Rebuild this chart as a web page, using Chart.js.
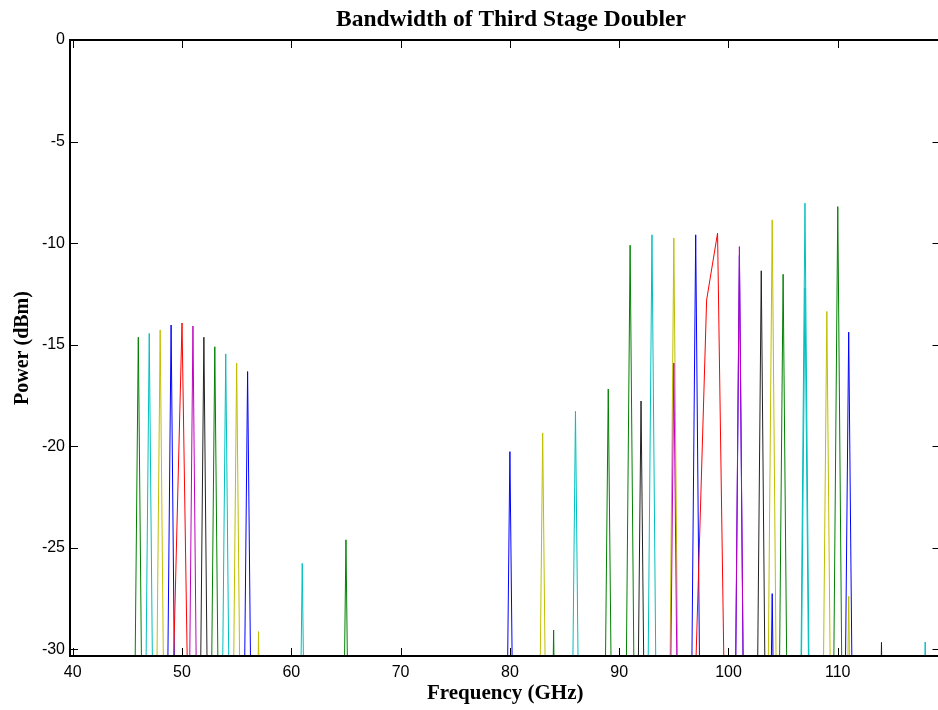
<!DOCTYPE html>
<html>
<head>
<meta charset="utf-8">
<title>Bandwidth of Third Stage Doubler</title>
<script src="https://cdn.jsdelivr.net/npm/chart.js@4.4.1/dist/chart.umd.min.js"></script>
<style>
    html, body { margin: 0; padding: 0; background: #fff; overflow: hidden; }
    #wrap { width: 942px; height: 710px; }
</style>
</head>
<body>
<div id="wrap"><canvas id="myChart" width="942" height="710"></canvas></div>
<script>
// Peak output of each measured tone (GHz, dBm) and its trace colour
const toneFreq = [46, 47, 48, 49, 51, 52, 53, 54, 55, 56, 57, 61, 65,
    80, 83, 84, 86, 89, 91, 92, 93, 95, 95, 97,
    101, 101, 103, 104, 104, 105, 107, 107, 109, 110, 111, 111, 114, 118];
const tonePower = [-14.63, -14.44, -14.27, -14.03, -14.08, -14.63, -15.1, -15.45, -15.9, -16.32, -29.12, -25.76, -24.6,
    -20.26, -19.34, -29.04, -18.28, -17.18, -10.1, -17.77, -9.59, -15.9, -9.75, -9.59,
    -10.17, -10.6, -11.36, -27.25, -8.85, -11.53, -8.03, -12.2, -13.36, -8.2, -27.38, -14.38, -29.65, -29.63];
const toneColor = ['g', 'c', 'y', 'b', 'm', 'k', 'g', 'c', 'y', 'b', 'y', 'c', 'g',
    'b', 'y', 'g', 'c', 'g', 'g', 'k', 'c', 'm', 'y', 'b',
    'm', 'b', 'k', 'b', 'y', 'g', 'c', 'c', 'y', 'g', 'y', 'b', 'k', 'c'];

// the two red sweeps were logged point by point
const redLowFreq = [49, 50, 51];
const redLowPower = [-35.5, -13.93, -48.8];
const redHighFreq = [97, 98, 99, 100];
const redHighPower = [-31, -12.8, -9.51, -46];

// analyzer reading either side of a tone, one sweep step away
const noiseFloor = -70;
const sweepStep = 1;

const xTickValues = [40, 50, 60, 70, 80, 90, 100, 110];
const yTickValues = [0, -5, -10, -15, -20, -25, -30];

const matlabColors = {
    b: '#0000ff', g: '#008000', r: '#ff0000', c: '#00bfbf',
    m: '#bf00bf', y: '#bfbf00', k: '#222222'
};

function lineSet(points, color) {
    return {
        data: points,
        borderColor: color,
        borderWidth: 1,
        pointRadius: 0,
        tension: 0,
        fill: false
    };
}

const datasets = [
    lineSet(redLowFreq.map((f, i) => ({ x: f, y: redLowPower[i] })), matlabColors.r),
    lineSet(redHighFreq.map((f, i) => ({ x: f, y: redHighPower[i] })), matlabColors.r)
];
toneFreq.forEach((f, i) => {
    datasets.push(lineSet([
        { x: f - sweepStep, y: noiseFloor },
        { x: f, y: tonePower[i] },
        { x: f + sweepStep, y: noiseFloor }
    ], matlabColors[toneColor[i]]));
});

// boxed axes with the tick marks pointing inwards, plus the heading
const boxTicks = {
    id: 'boxTicks',
    afterDatasetsDraw(chart) {
        const { ctx, chartArea: a, scales: { x, y } } = chart;
        const len = 8;
        ctx.save();
        ctx.strokeStyle = '#000';
        ctx.lineWidth = 1;
        ctx.beginPath();
        xTickValues.forEach(v => {
            const px = Math.round(x.getPixelForValue(v)) + 0.5;
            ctx.moveTo(px, a.bottom);
            ctx.lineTo(px, a.bottom - len);
            ctx.moveTo(px, a.top);
            ctx.lineTo(px, a.top + len);
        });
        yTickValues.forEach(v => {
            const py = Math.round(y.getPixelForValue(v)) + 0.5;
            ctx.moveTo(a.left, py);
            ctx.lineTo(a.left + len, py);
            ctx.moveTo(a.right, py);
            ctx.lineTo(a.right - len, py);
        });
        ctx.stroke();
        ctx.lineWidth = 2;
        ctx.strokeRect(a.left, a.top, a.right - a.left, a.bottom - a.top);

        ctx.fillStyle = '#000';
        ctx.font = 'bold 23.5px "Liberation Serif"';
        ctx.textAlign = 'center';
        ctx.textBaseline = 'middle';
        ctx.fillText('Bandwidth of Third Stage Doubler', 511, 20);
        ctx.restore();
    }
};

const ctx = document.getElementById('myChart').getContext('2d');

new Chart(ctx, {
    type: 'line',
    data: { datasets: datasets },
    options: {
        responsive: false,
        animation: false,
        devicePixelRatio: 1,
        layout: {
            padding: { left: 0, right: 1.5, top: 40, bottom: 0 }
        },
        scales: {
            x: {
                type: 'linear',
                min: 39.75,
                max: 119.4,
                afterBuildTicks: s => { s.ticks = xTickValues.map(v => ({ value: v })); },
                afterFit: s => { s.height = 54; },
                grid: { display: false, drawTicks: false },
                border: { display: false },
                ticks: {
                    color: '#000',
                    font: { family: 'Liberation Sans', size: 16 },
                    padding: 7,
                    maxRotation: 0,
                    autoSkip: false
                },
                title: {
                    display: true,
                    text: 'Frequency (GHz)',
                    color: '#000',
                    font: { family: 'Liberation Serif', size: 21, weight: 'bold' },
                    padding: { top: 0, bottom: 4 }
                }
            },
            y: {
                type: 'linear',
                min: -30.32,
                max: 0,
                afterBuildTicks: s => { s.ticks = yTickValues.map(v => ({ value: v })); },
                afterFit: s => { s.width = 70; },
                grid: { display: false, drawTicks: false },
                border: { display: false },
                ticks: {
                    color: '#000',
                    font: { family: 'Liberation Sans', size: 16 },
                    padding: 5,
                    autoSkip: false
                },
                title: {
                    display: true,
                    text: 'Power (dBm)',
                    color: '#000',
                    font: { family: 'Liberation Serif', size: 20, weight: 'bold' },
                    padding: { top: 11, bottom: 0 }
                }
            }
        },
        plugins: {
            legend: { display: false },
            tooltip: { enabled: false }
        }
    },
    plugins: [boxTicks]
});
</script>
</body>
</html>
